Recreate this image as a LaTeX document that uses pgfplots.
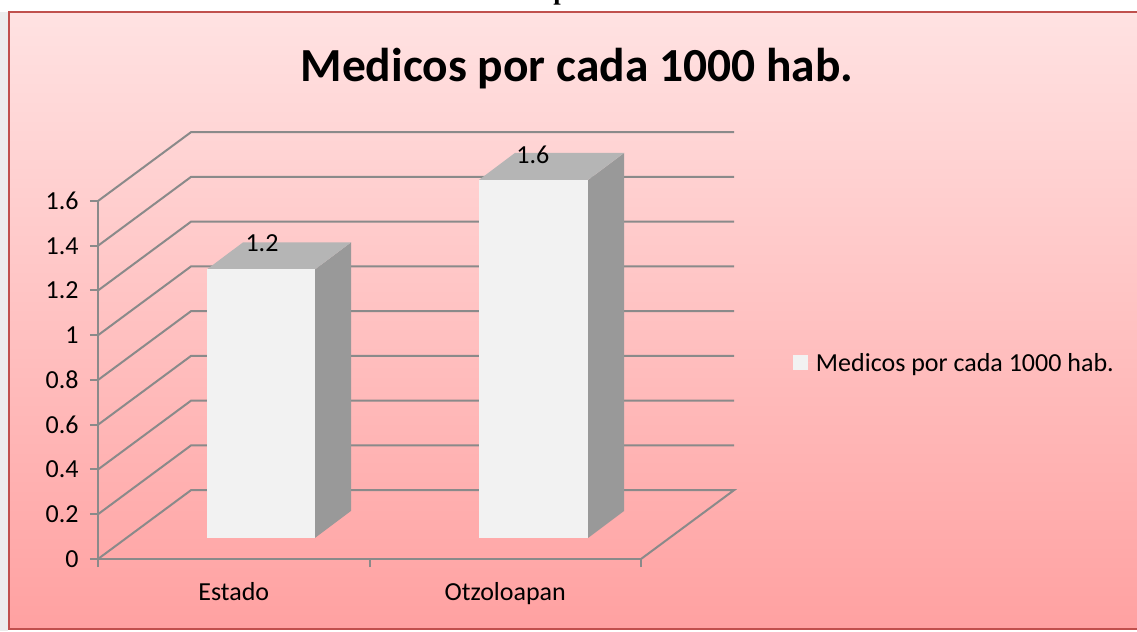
\documentclass[border=0pt]{standalone}
\usepackage{pgfplots}
\pgfplotsset{compat=1.18}
\usepackage{fontspec}
\setmainfont{Carlito}
\newfontfamily\serifb{Liberation Serif}
\definecolor{bgtop}{HTML}{FFE2E2}
\definecolor{bgbot}{HTML}{FFA1A1}
\definecolor{framec}{HTML}{C0504D}
\definecolor{gridc}{HTML}{8A8A8A}
\definecolor{barfront}{HTML}{F2F2F2}
\definecolor{bartop}{HTML}{B5B5B5}
\definecolor{barside}{HTML}{999999}
\begin{document}
\begin{tikzpicture}
\useasboundingbox (0pt,0pt) rectangle (852.75pt,473.25pt);
\begin{scope}[x=0.75pt,y=0.75pt]
\fill[white] (0,0) rectangle (1137,631);
\fill[black!7] (0,0) rectangle (8,619);
\shade[top color=bgtop, bottom color=bgbot] (8,2) rectangle (1142,619);
\draw[framec, line width=1.5pt] (8.5,2.5) rectangle (1142,618.5);
\begin{scope}
\clip (0,620) rectangle (1137,631);
\node[font=\serifb\bfseries\fontsize{20}{24}\selectfont, anchor=base west, inner sep=0pt] at (553,631) {p};
\end{scope}
\end{scope}
\begin{axis}[
  at={(73.5pt,54pt)}, anchor=south west,
  scale only axis, width=407.25pt, height=268.5pt,
  xmin=0, xmax=2, ymin=0, ymax=1.6,
  clip=false,
  axis x line*=bottom, axis y line*=left,
  axis line style={draw=gridc, line width=1.5pt, -},
  tick style={draw=gridc, line width=1.5pt},
  tick align=outside, major tick length=6pt,
  ytick={0,0.2,0.4,0.6,0.8,1,1.2,1.4,1.6},
  yticklabel style={font=\fontsize{19.5}{23}\selectfont, xshift=-5pt},
  /pgf/number format/.cd, fixed, assume math mode=true, /pgfplots/.cd,
  xtick={0,1,2}, xticklabels={},
  extra x ticks={0.5,1.5},
  extra x tick labels={Estado,Otzoloapan},
  extra x tick style={major tick length=0pt},
  xticklabel style={font=\fontsize{19.5}{23}\selectfont, yshift=-14pt},
  title={Medicos por cada 1000 hab.},
  title style={at={(0.882,1.3128)}, anchor=base, font=\bfseries\fontsize{35.6}{42}\selectfont},
  legend style={at={(1.28,0.5475)}, anchor=west, draw=none, fill=none, inner sep=0pt,
    font=\fontsize{19.5}{23}\selectfont},
  legend cell align=left,
]
% back wall and left wall gridlines (depth offset 0.343, 0.308)
\pgfplotsset{every axis plot/.append style={forget plot}}
\addplot[gridc, line width=1.5pt] coordinates {(0,0) (0.343,0.308) (2.343,0.308) (2,0)};
\addplot[gridc, line width=1.5pt] coordinates {(0,0.2) (0.343,0.508) (2.343,0.508)};
\addplot[gridc, line width=1.5pt] coordinates {(0,0.4) (0.343,0.708) (2.343,0.708)};
\addplot[gridc, line width=1.5pt] coordinates {(0,0.6) (0.343,0.908) (2.343,0.908)};
\addplot[gridc, line width=1.5pt] coordinates {(0,0.8) (0.343,1.108) (2.343,1.108)};
\addplot[gridc, line width=1.5pt] coordinates {(0,1.0) (0.343,1.308) (2.343,1.308)};
\addplot[gridc, line width=1.5pt] coordinates {(0,1.2) (0.343,1.508) (2.343,1.508)};
\addplot[gridc, line width=1.5pt] coordinates {(0,1.4) (0.343,1.708) (2.343,1.708)};
\addplot[gridc, line width=1.5pt] coordinates {(0,1.6) (0.343,1.908) (2.343,1.908)};
% Bar Estado = 1.2 (base 0.094, top 0.094+1.2=1.294)
\addplot[fill=barside, draw=none] coordinates {(0.799,0.094) (0.932,0.215) (0.932,1.415) (0.799,1.294)} -- cycle;
\addplot[fill=bartop, draw=none] coordinates {(0.401,1.294) (0.799,1.294) (0.932,1.415) (0.534,1.415)} -- cycle;
% Bar Otzoloapan = 1.6 (base 0.094, top 0.094+1.6=1.694)
\addplot[fill=barside, draw=none] coordinates {(1.805,0.094) (1.938,0.215) (1.938,1.815) (1.805,1.694)} -- cycle;
\addplot[fill=bartop, draw=none] coordinates {(1.403,1.694) (1.805,1.694) (1.938,1.815) (1.536,1.815)} -- cycle;
\addplot[fill=barfront, draw=none] coordinates {(1.403,0.094) (1.805,0.094) (1.805,1.694) (1.403,1.694)} -- cycle;
\pgfplotsset{every axis plot/.append style={forget plot=false}}
\addplot[fill=barfront, draw=none,
  legend image code/.code={\fill[barfront] (0pt,-5.625pt) rectangle (11.25pt,5.625pt); \path (11.25pt,0pt) -- (15pt,0pt);}]
  coordinates {(0.401,0.094) (0.799,0.094) (0.799,1.294) (0.401,1.294)} -- cycle;
\addlegendentry{Medicos por cada 1000 hab.}
% data labels
\addplot[forget plot, draw=none, mark=none, nodes near coords, point meta=explicit symbolic,
  nodes near coords style={anchor=center, inner sep=0pt, font=\fontsize{19.5}{23}\selectfont}]
  coordinates {(0.604,1.412)[1.2] (1.602,1.806)[1.6]};
\end{axis}
\end{tikzpicture}
\end{document}
